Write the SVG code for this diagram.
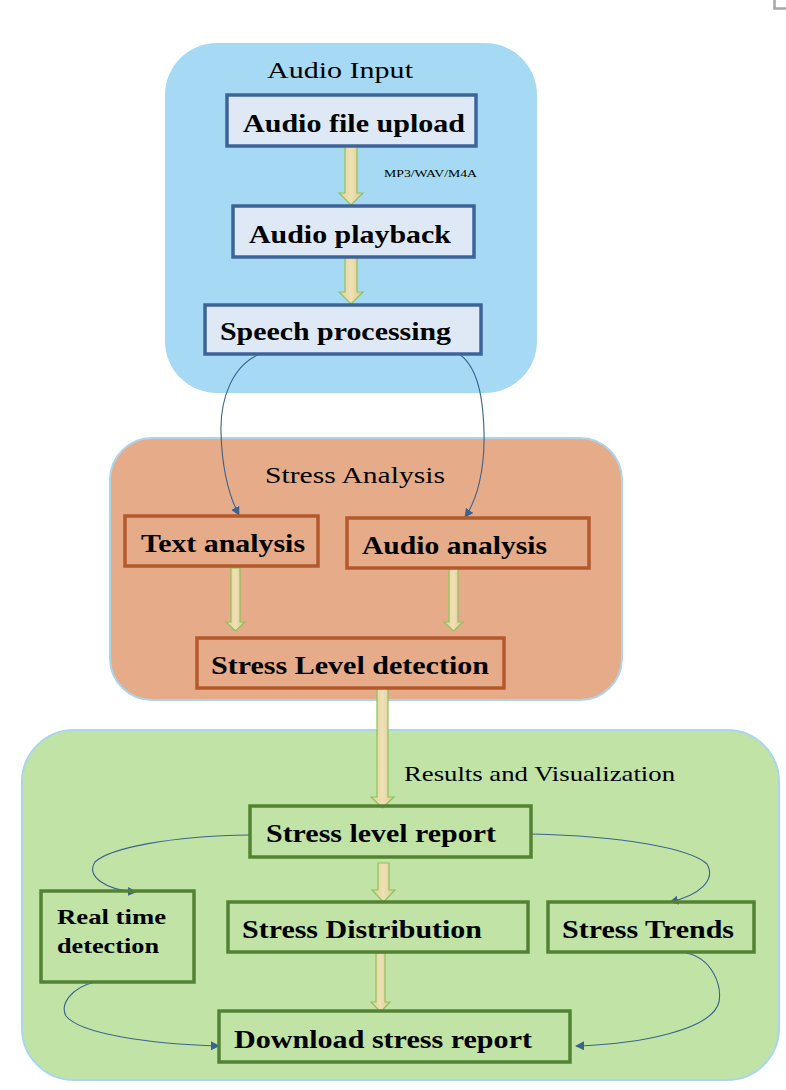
<svg xmlns="http://www.w3.org/2000/svg" width="786" height="1090" viewBox="0 0 786 1090">
<style>
.title{font-family:'Liberation Serif','Times New Roman',Times,Tinos,serif;font-size:24px;fill:#000}
.lbl{font-family:'Liberation Serif','Times New Roman',Times,Tinos,serif;font-weight:bold;font-size:26px;fill:#000}
.small{font-family:'Liberation Serif','Times New Roman',Times,Tinos,serif;font-size:11px;fill:#000}
.blue{fill:#dfe9f6;stroke:#3c6499;stroke-width:3.5}
.orange{fill:none;stroke:#b5592d;stroke-width:3.5}
.green{fill:none;stroke:#548235;stroke-width:3.5}
.blk{fill:url(#tan);stroke:#8fc25a;stroke-width:1.2}
.curve{fill:none;stroke:#3a6390;stroke-width:1.1}
</style>
<defs>
<linearGradient id="tan" x1="0" y1="0" x2="1" y2="0">
<stop offset="0" stop-color="#e2cf98"/>
<stop offset="0.5" stop-color="#efe1b6"/>
<stop offset="1" stop-color="#dcc68e"/>
</linearGradient>
<marker id="ah" viewBox="0 0 10 10" refX="9" refY="5" markerWidth="9" markerHeight="9" markerUnits="userSpaceOnUse" orient="auto">
<path d="M0,0 L10,5 L0,10 z" fill="#3a6390"/>
</marker>
</defs>
<rect width="786" height="1090" fill="#fff"/>
<path d="M774.5,0 V8.5 H786" fill="none" stroke="#a6a6a6" stroke-width="2.5"/>

<g id="audio-input">
<rect x="165" y="43" width="372" height="350" rx="52" fill="#a6daf4"/>
<text class="title" x="267" y="78" textLength="146" lengthAdjust="spacingAndGlyphs">Audio Input</text>
</g>
<g id="stress-analysis">
<rect x="110" y="438" width="512" height="262" rx="42" fill="#e6ab88" stroke="#a9d6ee" stroke-width="2"/>
<text class="title" x="265" y="483" textLength="180" lengthAdjust="spacingAndGlyphs">Stress Analysis</text>
</g>
<g id="results">
<rect x="22" y="730" width="757" height="350" rx="52" fill="#c1e3a6" stroke="#a9d6ee" stroke-width="2"/>
<text class="title" x="404" y="781" style="font-size:21px" textLength="271" lengthAdjust="spacingAndGlyphs">Results and Visualization</text>
</g>

<g id="connectors">
<path class="blk" d="M345,146 H357 V193 H363 L351,205 L339,193 H345 Z"/>
<path class="blk" d="M345,257 H357 V292 H363 L351,304 L339,292 H345 Z"/>
<path class="blk" d="M231,568 H240 V622 H245 L235.5,631 L226,622 H231 Z"/>
<path class="blk" d="M449,568 H458 V622 H463 L453.5,631 L444,622 H449 Z"/>
<path class="blk" d="M377,688 H388 V797 H394 L382.5,808 L371,797 H377 Z"/>
<path class="blk" d="M378,863 H389 V890 H395 L383.5,902 L372,890 H378 Z"/>
<path class="blk" d="M376,953 H385 V1002 H390 L380.5,1012 L371,1002 H376 Z"/>
<path class="curve" marker-end="url(#ah)" d="M260,354 C232,365 220,400 221,432 C222,470 230,498 239,515"/>
<path class="curve" marker-end="url(#ah)" d="M452,350 C476,360 483,392 484,432 C485,470 477,500 465,517"/>
<path class="curve" marker-end="url(#ah)" d="M250,835 C170,836 110,848 95,862 C86,876 105,890 136,892"/>
<path class="curve" marker-end="url(#ah)" d="M532,834 C620,836 690,848 707,864 C716,880 700,895 670,902"/>
<path class="curve" marker-end="url(#ah)" d="M95,982 C70,988 60,1005 66,1016 C80,1034 150,1044 219,1046"/>
<path class="curve" marker-end="url(#ah)" d="M686,953 C712,958 722,985 719,1002 C712,1030 640,1044 576,1046"/>
</g>

<g id="audio-file-upload">
<rect class="blue" x="227" y="95" width="249" height="51"/>
<text class="lbl" x="243" y="132" textLength="222" lengthAdjust="spacingAndGlyphs">Audio file upload</text>
</g>
<g id="format-label">
<text class="small" x="384" y="177" textLength="93" lengthAdjust="spacingAndGlyphs">MP3/WAV/M4A</text>
</g>
<g id="audio-playback">
<rect class="blue" x="233" y="206" width="241" height="51"/>
<text class="lbl" x="249" y="243" textLength="202" lengthAdjust="spacingAndGlyphs">Audio playback</text>
</g>
<g id="speech-processing">
<rect class="blue" x="205" y="305" width="276" height="49"/>
<text class="lbl" x="220" y="340" textLength="231" lengthAdjust="spacingAndGlyphs">Speech processing</text>
</g>
<g id="text-analysis">
<rect class="orange" x="125" y="516" width="193" height="50"/>
<text class="lbl" x="141" y="552" textLength="164" lengthAdjust="spacingAndGlyphs">Text analysis</text>
</g>
<g id="audio-analysis">
<rect class="orange" x="347" y="518" width="242" height="50"/>
<text class="lbl" x="362" y="554" textLength="185" lengthAdjust="spacingAndGlyphs">Audio analysis</text>
</g>
<g id="stress-level-detection">
<rect class="orange" x="197" y="638" width="307" height="50"/>
<text class="lbl" x="211" y="674" textLength="278" lengthAdjust="spacingAndGlyphs">Stress Level detection</text>
</g>
<g id="stress-level-report">
<rect class="green" x="250" y="806" width="281" height="51"/>
<text class="lbl" x="266" y="842" textLength="230" lengthAdjust="spacingAndGlyphs">Stress level report</text>
</g>
<g id="real-time-detection">
<rect class="green" x="41" y="891" width="153" height="91"/>
<text class="lbl" x="57" y="924" style="font-size:22px" textLength="109" lengthAdjust="spacingAndGlyphs">Real time</text>
<text class="lbl" x="57" y="953" style="font-size:22px" textLength="102" lengthAdjust="spacingAndGlyphs">detection</text>
</g>
<g id="stress-distribution">
<rect class="green" x="228" y="902" width="300" height="50"/>
<text class="lbl" x="242" y="938" textLength="240" lengthAdjust="spacingAndGlyphs">Stress Distribution</text>
</g>
<g id="stress-trends">
<rect class="green" x="548" y="902" width="206" height="50"/>
<text class="lbl" x="562" y="938" textLength="172" lengthAdjust="spacingAndGlyphs">Stress Trends</text>
</g>
<g id="download-stress-report">
<rect class="green" x="219" y="1011" width="351" height="51"/>
<text class="lbl" x="234" y="1048" textLength="298" lengthAdjust="spacingAndGlyphs">Download stress report</text>
</g>
</svg>
